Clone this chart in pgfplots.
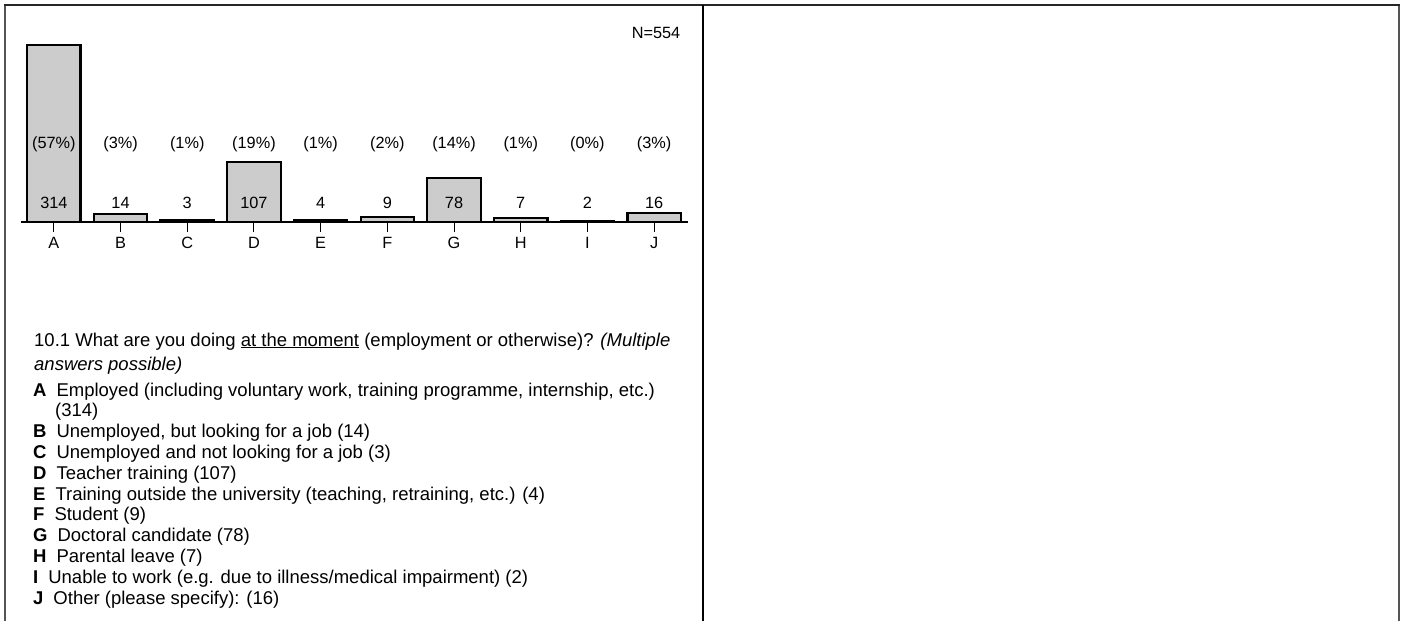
\documentclass[border=0pt]{standalone}
\usepackage{fontspec}
\setmainfont{Liberation Sans}
\usepackage{pgfplots}
\pgfplotsset{compat=1.18}
\definecolor{barfill}{RGB}{204,204,204}
\definecolor{framegray}{RGB}{85,85,85}
\newcommand{\lab}{\fontsize{16.3bp}{19bp}\selectfont}
\newcommand{\txt}{\fontsize{18.5bp}{21bp}\selectfont}
\begin{document}
\begin{tikzpicture}
\path[use as bounding box] (0,0) rectangle (1404bp,-621bp);
\draw[line width=2bp, framegray] (5bp,-625bp) -- (5bp,-5bp);
\draw[line width=2.5bp, framegray] (1399bp,-625bp) -- (1399bp,-5bp);
\draw[line width=1.8bp, black!85] (4bp,-5bp) -- (1400bp,-5bp);
\draw[line width=1.8bp, black] (703bp,-5bp) -- (703bp,-625bp);

\begin{axis}[
  at={(20.5bp,-222bp)}, anchor=south west,
  scale only axis, width=667bp, height=177bp,
  xmin=-0.5, xmax=9.5, ymin=0, ymax=314,
  axis x line=bottom, axis y line=none,
  axis line style={-, line width=1.3bp, black},
  xtick={0,...,9},
  xticklabels={A,B,C,D,E,F,G,H,I,J},
  major tick length=10bp, tick align=center,
  tick style={line width=1bp, black},
  x tick label style={font=\lab, inner sep=0pt, text height=11.8bp, text depth=0pt, yshift=-4bp},
  ytick=\empty,
  clip=false,
  ybar, bar width=0.8,
]
\addplot[fill=barfill, draw=black, line width=2.2bp] coordinates {
  (0,314) (1,14) (2,3) (3,107) (4,4) (5,9) (6,78) (7,7) (8,2) (9,16)};
\node[font=\lab] at (axis cs:0,33.7) {314};
\node[font=\lab] at (axis cs:1,33.7) {14};
\node[font=\lab] at (axis cs:2,33.7) {3};
\node[font=\lab] at (axis cs:3,33.7) {107};
\node[font=\lab] at (axis cs:4,33.7) {4};
\node[font=\lab] at (axis cs:5,33.7) {9};
\node[font=\lab] at (axis cs:6,33.7) {78};
\node[font=\lab] at (axis cs:7,33.7) {7};
\node[font=\lab] at (axis cs:8,33.7) {2};
\node[font=\lab] at (axis cs:9,33.7) {16};
\node[font=\lab] at (axis cs:0,138.4) {(57\%)};
\node[font=\lab] at (axis cs:1,138.4) {(3\%)};
\node[font=\lab] at (axis cs:2,138.4) {(1\%)};
\node[font=\lab] at (axis cs:3,138.4) {(19\%)};
\node[font=\lab] at (axis cs:4,138.4) {(1\%)};
\node[font=\lab] at (axis cs:5,138.4) {(2\%)};
\node[font=\lab] at (axis cs:6,138.4) {(14\%)};
\node[font=\lab] at (axis cs:7,138.4) {(1\%)};
\node[font=\lab] at (axis cs:8,138.4) {(0\%)};
\node[font=\lab] at (axis cs:9,138.4) {(3\%)};
\end{axis}

\node[font=\lab] at (656bp,-33bp) {N=554};

\node[font=\txt, anchor=base west, inner sep=0pt] at (34bp,-346bp) {10.1 What are you doing \underline{at the moment} (employment or otherwise)? \textit{(Multiple}};
\node[font=\txt, anchor=base west, inner sep=0pt] at (34bp,-370bp) {\textit{answers possible)}};

\begin{scope}[every node/.style={font=\txt, anchor=base west, inner sep=0pt}]
\node at (33bp,-396bp) {\textbf{A}\hspace{10bp}Employed (including voluntary work, training programme, internship, etc.)};
\node at (55bp,-416.8bp) {(314)};
\node at (33bp,-437.6bp) {\textbf{B}\hspace{10bp}Unemployed, but looking for a job (14)};
\node at (33bp,-458.4bp) {\textbf{C}\hspace{10bp}Unemployed and not looking for a job (3)};
\node at (33bp,-479.2bp) {\textbf{D}\hspace{10bp}Teacher training (107)};
\node at (33bp,-500bp) {\textbf{E}\hspace{10bp}Training outside the university (teaching, retraining, etc.) (4)};
\node at (33bp,-520.8bp) {\textbf{F}\hspace{10bp}Student (9)};
\node at (33bp,-541.6bp) {\textbf{G}\hspace{10bp}Doctoral candidate (78)};
\node at (33bp,-562.4bp) {\textbf{H}\hspace{10bp}Parental leave (7)};
\node at (33bp,-583.2bp) {\textbf{I}\hspace{10bp}Unable to work (e.g. due to illness/medical impairment) (2)};
\node at (33bp,-604bp) {\textbf{J}\hspace{10bp}Other (please specify): (16)};
\end{scope}
\end{tikzpicture}
\end{document}
